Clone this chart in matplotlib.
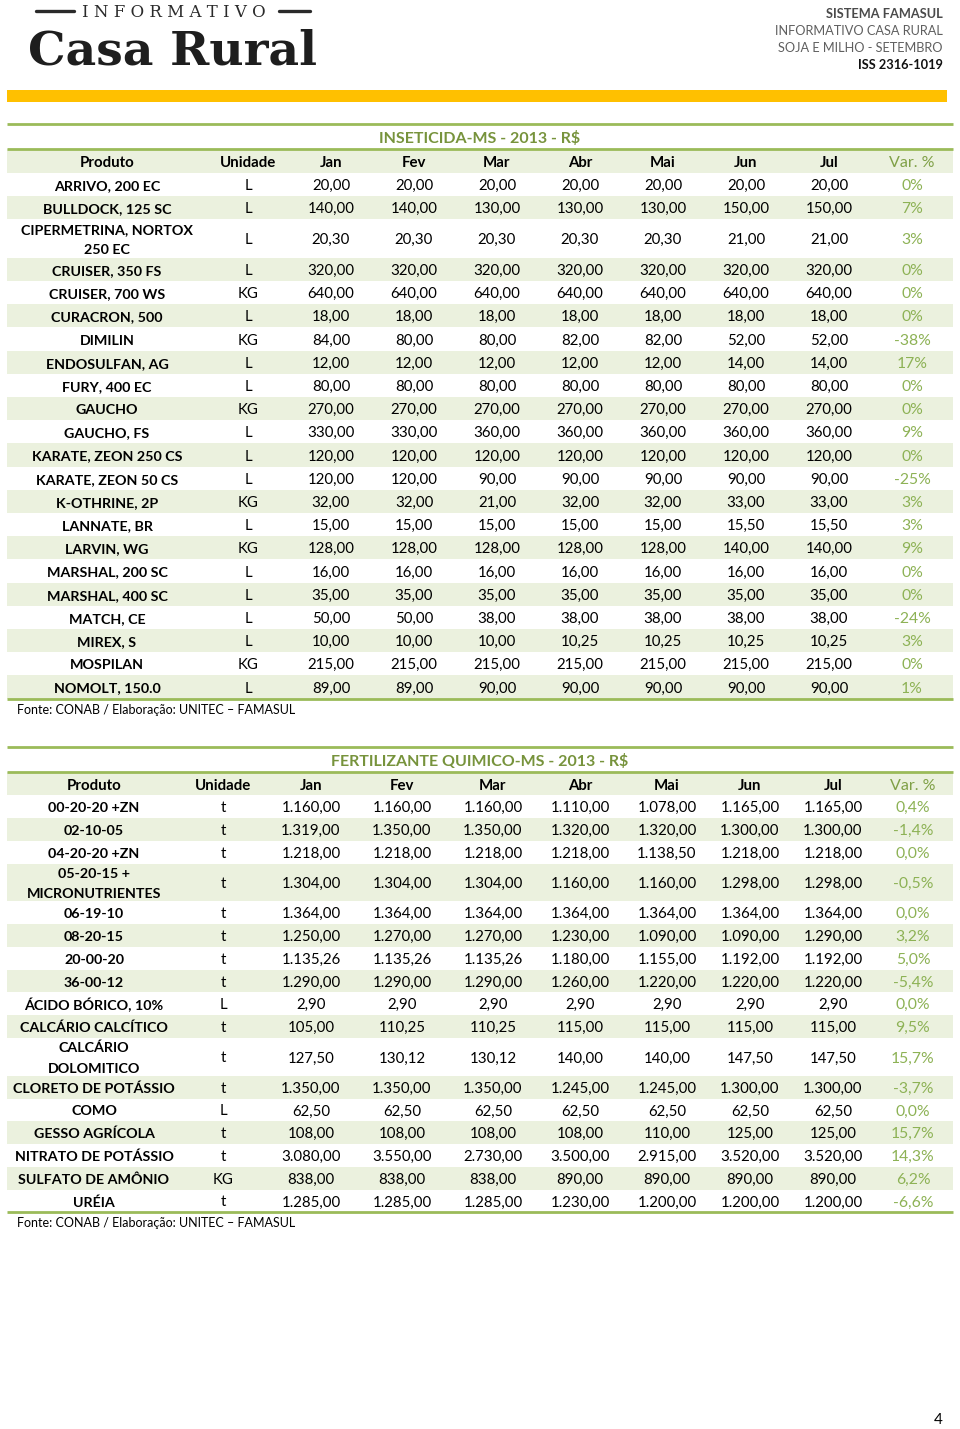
import matplotlib
matplotlib.use("Agg")
import matplotlib.pyplot as plt

plt.rcParams['font.family'] = ['Lato', 'DejaVu Sans']

# ---------------- DATA ----------------
months = ["Jan", "Fev", "Mar", "Abr", "Mai", "Jun", "Jul"]

ins_title = "INSETICIDA-MS - 2013 - R$"
ins_products = ["ARRIVO, 200 EC", "BULLDOCK, 125 SC", "CIPERMETRINA, NORTOX\n250 EC",
                "CRUISER, 350 FS", "CRUISER, 700 WS", "CURACRON, 500", "DIMILIN",
                "ENDOSULFAN, AG", "FURY, 400 EC", "GAUCHO", "GAUCHO, FS",
                "KARATE, ZEON 250 CS", "KARATE, ZEON 50 CS", "K-OTHRINE, 2P",
                "LANNATE, BR", "LARVIN, WG", "MARSHAL, 200 SC", "MARSHAL, 400 SC",
                "MATCH, CE", "MIREX, S", "MOSPILAN", "NOMOLT, 150.0"]
ins_units = ["L", "L", "L", "L", "KG", "L", "KG", "L", "L", "KG", "L", "L", "L", "KG",
             "L", "KG", "L", "L", "L", "L", "KG", "L"]
ins_jan = [20, 140, 20.30, 320, 640, 18, 84, 12, 80, 270, 330, 120, 120, 32, 15, 128, 16, 35, 50, 10, 215, 89]
ins_fev = [20, 140, 20.30, 320, 640, 18, 80, 12, 80, 270, 330, 120, 120, 32, 15, 128, 16, 35, 50, 10, 215, 89]
ins_mar = [20, 130, 20.30, 320, 640, 18, 80, 12, 80, 270, 360, 120, 90, 21, 15, 128, 16, 35, 38, 10, 215, 90]
ins_abr = [20, 130, 20.30, 320, 640, 18, 82, 12, 80, 270, 360, 120, 90, 32, 15, 128, 16, 35, 38, 10.25, 215, 90]
ins_mai = [20, 130, 20.30, 320, 640, 18, 82, 12, 80, 270, 360, 120, 90, 32, 15, 128, 16, 35, 38, 10.25, 215, 90]
ins_jun = [20, 150, 21, 320, 640, 18, 52, 14, 80, 270, 360, 120, 90, 33, 15.5, 140, 16, 35, 38, 10.25, 215, 90]
ins_jul = [20, 150, 21, 320, 640, 18, 52, 14, 80, 270, 360, 120, 90, 33, 15.5, 140, 16, 35, 38, 10.25, 215, 90]
ins_var = [0, 7, 3, 0, 0, 0, -38, 17, 0, 0, 9, 0, -25, 3, 3, 9, 0, 0, -24, 3, 0, 1]

fer_title = "FERTILIZANTE QUIMICO-MS - 2013 - R$"
fer_products = ["00-20-20 +ZN", "02-10-05", "04-20-20 +ZN", "05-20-15 +\nMICRONUTRIENTES",
                "06-19-10", "08-20-15", "20-00-20", "36-00-12", "ÁCIDO BÓRICO, 10%",
                "CALCÁRIO CALCÍTICO", "CALCÁRIO\nDOLOMITICO", "CLORETO DE POTÁSSIO", "COMO",
                "GESSO AGRÍCOLA", "NITRATO DE POTÁSSIO", "SULFATO DE AMÔNIO", "URÉIA"]
fer_units = ["t", "t", "t", "t", "t", "t", "t", "t", "L", "t", "t", "t", "L", "t", "t", "KG", "t"]
fer_jan = [1160, 1319, 1218, 1304, 1364, 1250, 1135.26, 1290, 2.90, 105, 127.50, 1350, 62.50, 108, 3080, 838, 1285]
fer_fev = [1160, 1350, 1218, 1304, 1364, 1270, 1135.26, 1290, 2.90, 110.25, 130.12, 1350, 62.50, 108, 3550, 838, 1285]
fer_mar = [1160, 1350, 1218, 1304, 1364, 1270, 1135.26, 1290, 2.90, 110.25, 130.12, 1350, 62.50, 108, 2730, 838, 1285]
fer_abr = [1110, 1320, 1218, 1160, 1364, 1230, 1180, 1260, 2.90, 115, 140, 1245, 62.50, 108, 3500, 890, 1230]
fer_mai = [1078, 1320, 1138.50, 1160, 1364, 1090, 1155, 1220, 2.90, 115, 140, 1245, 62.50, 110, 2915, 890, 1200]
fer_jun = [1165, 1300, 1218, 1298, 1364, 1090, 1192, 1220, 2.90, 115, 147.50, 1300, 62.50, 125, 3520, 890, 1200]
fer_jul = [1165, 1300, 1218, 1298, 1364, 1290, 1192, 1220, 2.90, 115, 147.50, 1300, 62.50, 125, 3520, 890, 1200]
fer_var = [0.4, -1.4, 0.0, -0.5, 0.0, 3.2, 5.0, -5.4, 0.0, 9.5, 15.7, -3.7, 0.0, 15.7, 14.3, 6.2, -6.6]

source_text = "Fonte: CONAB / Elaboração: UNITEC – FAMASUL"

# ---------------- STYLE ----------------
GREEN_LINE = "#9BBB59"
GREEN_FILL = "#EBF1DE"
TITLE_GREEN = "#77933C"
VAR_GREEN = "#8DB255"
FS_B = 10.3   # bold labels
FS_N = 10.8   # regular numbers


def br(v, dec=2):
    s = f"{v:,.{dec}f}"
    return s.replace(",", "X").replace(".", ",").replace("X", ".")


fig = plt.figure(figsize=(9.6, 14.29), dpi=100)
ax = fig.add_axes([0, 0, 1, 1])
ax.set_xlim(0, 960)
ax.set_ylim(1429, 0)
ax.axis("off")

# ---------------- HEADER ----------------
ax.text(174, 12, "I N F O R M A T I V O", ha="center", va="center", fontsize=12,
        family="DejaVu Serif", color="#2a2a2a")
ax.plot([36, 74], [11, 11], color="#2a2a2a", lw=2.4, solid_capstyle="round")
ax.plot([279, 310], [11, 11], color="#2a2a2a", lw=2.4, solid_capstyle="round")
ax.text(173, 51, "Casa Rural", ha="center", va="center", fontsize=34, fontweight="bold",
        family="DejaVu Serif", color="#1e1e1e")

ax.text(943, 14, "SISTEMA FAMASUL", ha="right", va="center", fontsize=9.2, fontweight="bold", color="#4a4a4a")
ax.text(943, 31, "INFORMATIVO CASA RURAL", ha="right", va="center", fontsize=9.2, color="#5f5f5f")
ax.text(943, 48, "SOJA E MILHO - SETEMBRO", ha="right", va="center", fontsize=9.2, color="#5f5f5f")
ax.text(943, 65, "ISS 2316-1019", ha="right", va="center", fontsize=9.2, fontweight="bold", color="#111111")

ax.barh(96, 940, left=7, height=12, color="#FFC000", edgecolor="none")


def draw_table(top_y, title, products, units, cols, var_labels, col_x, row_h, tall_h):
    x0, x1 = 7, 953
    title_h = 25
    head_h = row_h + 0.6
    ax.hlines(top_y, x0, x1, color=GREEN_LINE, lw=2)
    ax.text(480, top_y + 14, title, ha="center", va="center", fontsize=11.5,
            fontweight="bold", color=TITLE_GREEN)
    hy = top_y + title_h
    ax.barh(hy + head_h / 2, x1 - x0, left=x0, height=head_h, color=GREEN_FILL, edgecolor="none")
    ax.hlines(hy, x0, x1, color=GREEN_LINE, lw=2)
    headers = ["Produto", "Unidade"] + months
    for i, h in enumerate(headers):
        ax.text(col_x[i], hy + head_h / 2 + 2, h, ha="center", va="center", fontsize=10.8,
                fontweight="bold", color="black")
    ax.text(col_x[-1], hy + head_h / 2 + 2, "Var. %", ha="center", va="center", fontsize=11.5,
            color="#7FA046")
    y = hy + head_h
    for r, prod in enumerate(products):
        h = tall_h if "\n" in prod else row_h
        cy = y + h / 2 + 1.5
        if r % 2 == 1:
            ax.barh(y + h / 2, x1 - x0, left=x0, height=h, color=GREEN_FILL, edgecolor="none")
        ax.text(col_x[0], cy, prod, ha="center", va="center", fontsize=FS_B,
                fontweight="bold", color="black", linespacing=1.85)
        ax.text(col_x[1], cy, units[r], ha="center", va="center", fontsize=FS_N, color="black")
        for m, col in enumerate(cols):
            ax.text(col_x[2 + m], cy, br(col[r]), ha="center", va="center", fontsize=FS_N, color="black")
        ax.text(col_x[-1], cy, var_labels[r], ha="center", va="center", fontsize=11.3, color=VAR_GREEN)
        y += h
    ax.hlines(y, x0, x1, color=GREEN_LINE, lw=2)
    ax.text(17, y + 11, source_text, ha="left", va="center", fontsize=9.0, color="black")


ins_cols = [ins_jan, ins_fev, ins_mar, ins_abr, ins_mai, ins_jun, ins_jul]
ins_x = [107, 248, 331, 414, 497, 580, 663, 746, 829, 912]
draw_table(124, ins_title, ins_products, ins_units, ins_cols,
           [f"{v}%" for v in ins_var], ins_x, 23.2, 38.6)

fer_cols = [fer_jan, fer_fev, fer_mar, fer_abr, fer_mai, fer_jun, fer_jul]
fer_x = [94, 223, 311, 402, 493, 580, 667, 750, 833, 913]
draw_table(747, fer_title, fer_products, fer_units, fer_cols,
           [br(v, 1) + "%" for v in fer_var], fer_x, 22.76, 37.8)

ax.text(938, 1420, "4", ha="center", va="center", fontsize=11, color="black")

fig.savefig("out.png", dpi=100)
